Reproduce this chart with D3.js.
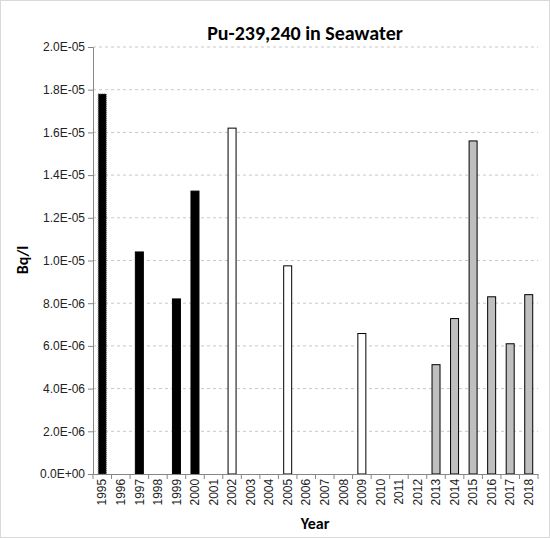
<!DOCTYPE html>
<html><head><meta charset="utf-8">
<script src="https://cdn.jsdelivr.net/npm/d3@7"></script>
<style>body{margin:0;background:#fff;font-family:Calibri,Carlito,"Liberation Sans",Arial,sans-serif}</style>
</head><body><svg id="c" width="550" height="538"></svg>
<script>
const years = d3.range(1995, 2019).map(String);
const values = [1.78e-5, null, 1.04e-5, null, 8.2e-6, 1.325e-5, null, 1.62e-5, null, null, 9.75e-6, null, null, null, 6.58e-6, null, null, null, 5.12e-6, 7.28e-6, 1.56e-5, 8.3e-6, 6.1e-6, 8.4e-6];
const groups = ["a", null, "b", null, "b", "b", null, "w", null, null, "w", null, null, null, "w", null, null, null, "g", "g", "g", "g", "g", "g"];
const yTicks = d3.range(0, 11).map(i => i * 2e-6);

const svg = d3.select("#c");
svg.append("rect").attr("x", 0.5).attr("y", 0.5).attr("width", 549).attr("height", 537)
  .attr("fill", "#fff").attr("stroke", "#d9d9d9");
const m = {l: 93, r: 538, t: 47, b: 474};
const x = d3.scaleBand().domain(years).range([m.l, m.r]);
const y = d3.scaleLinear().domain([0, 2e-5]).range([m.b, m.t]);

svg.append("g").selectAll("line").data(yTicks.slice(1)).join("line")
  .attr("x1", m.l).attr("x2", m.r).attr("y1", d => y(d)).attr("y2", d => y(d))
  .attr("stroke", "#c8c8c8").attr("stroke-dasharray", "3,3");

const fill = {a: "#000", b: "#000", w: "#fff", g: "#bfbfbf"};
const bw = 8;
svg.append("g").selectAll("rect").data(years.map((yr, i) => ({yr, v: values[i], g: groups[i]})).filter(d => d.v != null))
  .join("rect")
  .attr("x", d => x(d.yr) + x.bandwidth() / 2 - bw / 2).attr("width", bw)
  .attr("y", d => y(d.v)).attr("height", d => m.b - y(d.v))
  .attr("fill", d => fill[d.g])
  .attr("stroke", d => d.g === "a" ? "#555" : "#000")
  .attr("stroke-dasharray", d => d.g === "a" ? "1,1" : null)
  .attr("stroke-width", 1);

const yAxis = svg.append("g").attr("transform", `translate(${m.l},0)`)
  .call(d3.axisLeft(y).tickValues(yTicks).tickSize(5).tickFormat(d => {
    const [mant, ex] = d.toExponential(1).toUpperCase().split("E");
    const e = parseInt(ex);
    return mant + "E" + (e < 0 ? "-" : "+") + String(Math.abs(e)).padStart(2, "0");
  }));
yAxis.select(".domain").attr("stroke", "#868686");
yAxis.selectAll(".tick line").attr("stroke", "#868686");
yAxis.selectAll("text").attr("font-size", 12).attr("fill", "#222").attr("font-family", "inherit");

const xAxis = svg.append("g").attr("transform", `translate(0,${m.b})`)
  .call(d3.axisBottom(x).tickSize(0).tickSizeOuter(0));
xAxis.select(".domain").attr("stroke", "#868686");
xAxis.selectAll("text").attr("font-size", 12).attr("fill", "#222").attr("font-family", "inherit")
  .attr("transform", "rotate(-90)").attr("text-anchor", "end").attr("dx", "-0.4em").attr("dy", "0.35em").attr("y", 0);
svg.append("g").selectAll("line").data(years.concat(["end"])).join("line")
  .attr("x1", (d, i) => m.l + i * x.bandwidth()).attr("x2", (d, i) => m.l + i * x.bandwidth())
  .attr("y1", m.b).attr("y2", m.b + 5).attr("stroke", "#868686");

svg.append("text").attr("x", 305).attr("y", 40).attr("text-anchor", "middle")
  .attr("font-size", 20).attr("font-weight", "bold").text("Pu-239,240 in Seawater");
svg.append("text").attr("x", 315).attr("y", 529).attr("text-anchor", "middle")
  .attr("font-size", 16).attr("font-weight", "bold").text("Year");
svg.append("text").attr("transform", "translate(28,260) rotate(-90)").attr("text-anchor", "middle")
  .attr("font-size", 16).attr("font-weight", "bold").text("Bq/l");
</script></body></html>
